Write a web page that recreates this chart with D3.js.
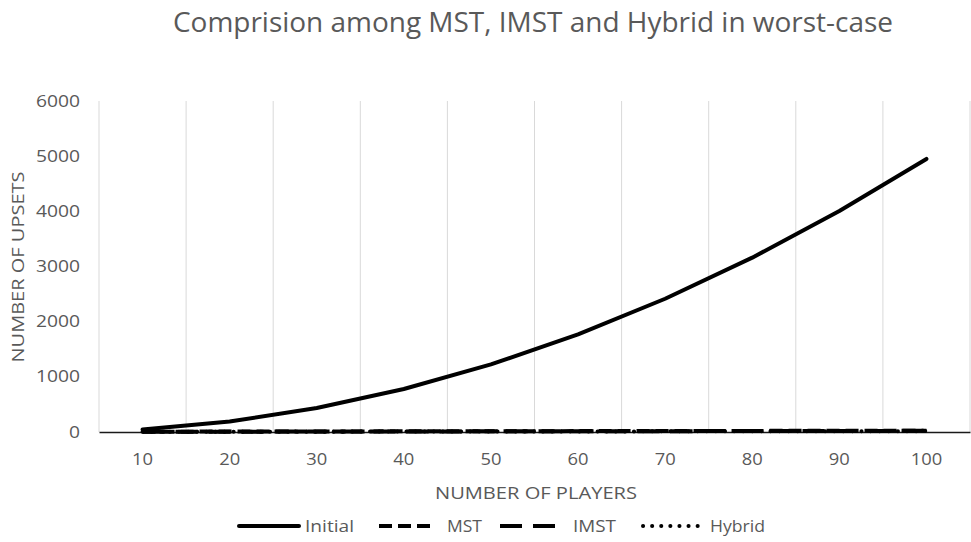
<!DOCTYPE html>
<html>
<head>
<meta charset="utf-8">
<script src="https://cdn.jsdelivr.net/npm/d3@7/dist/d3.min.js"></script>
<style>
  html, body { margin: 0; padding: 0; background: #ffffff; }
  svg { display: block; font-family: "Open Sans", "Noto Sans", sans-serif; }
</style>
</head>
<body>
<svg id="chart" width="971" height="542"></svg>
<script>
// Number of players (categories on the x axis)
const players = [10, 20, 30, 40, 50, 60, 70, 80, 90, 100];

// Number of upsets for each method
const initialUpsets = [45, 190, 435, 780, 1225, 1770, 2415, 3160, 4005, 4950];
const mstUpsets     = [5, 8, 10, 12, 14, 16, 18, 20, 22, 24];
const imstUpsets    = [4, 6, 8, 10, 12, 13, 15, 17, 19, 21];
const hybridUpsets  = [3, 5, 6, 8, 9, 10, 12, 13, 14, 16];

const yTicks = [0, 1000, 2000, 3000, 4000, 5000, 6000];

const seriesNames = ["Initial", "MST", "IMST", "Hybrid"];
const seriesValues = [initialUpsets, mstUpsets, imstUpsets, hybridUpsets];
const seriesDash = [null, "13,6", "22,11", "0.1,9"];
const seriesCap = ["round", "butt", "butt", "round"];

const textColor = "#595959";
const svg = d3.select("#chart");

const plot = { left: 99, right: 970, top: 101, bottom: 432 };

const x = d3.scaleBand().domain(players).range([plot.left, plot.right]).paddingInner(0).paddingOuter(0);
const y = d3.scaleLinear().domain([0, 6000]).range([plot.bottom, plot.top]);
const cx = d => x(d) + x.bandwidth() / 2;

// Title
svg.append("text")
  .attr("x", 173).attr("y", 32)
  .attr("textLength", 720).attr("lengthAdjust", "spacingAndGlyphs")
  .attr("fill", textColor).attr("font-size", 28)
  .text("Comprision among MST, IMST and Hybrid in worst-case");

// Vertical gridlines at category boundaries
const bounds = players.map(p => x(p)).concat([plot.right]);
svg.append("g").selectAll("line").data(bounds).join("line")
  .attr("x1", d => d).attr("x2", d => d)
  .attr("y1", y(6000)).attr("y2", y(0))
  .attr("stroke", "#d9d9d9").attr("stroke-width", 1);

// Y axis (labels only)
const yAxis = svg.append("g")
  .attr("transform", `translate(${plot.left},0)`)
  .call(d3.axisLeft(y).tickValues(yTicks).tickSize(0).tickPadding(19).tickFormat(d3.format("d")));
yAxis.select(".domain").remove();
yAxis.selectAll("text")
  .attr("fill", textColor).attr("font-size", 16)
  .attr("font-family", "'Open Sans', sans-serif")
  .attr("textLength", d => String(d).length * 11)
  .attr("lengthAdjust", "spacingAndGlyphs");

// X axis
const xAxis = svg.append("g")
  .attr("transform", `translate(0,${plot.bottom})`)
  .call(d3.axisBottom(x).tickSize(0).tickPadding(22));
xAxis.select(".domain").attr("stroke", "#1a1a1a").attr("stroke-width", 1.5);
xAxis.selectAll("text")
  .attr("fill", textColor).attr("font-size", 16)
  .attr("font-family", "'Open Sans', sans-serif")
  .attr("textLength", d => String(d).length * 10.5)
  .attr("lengthAdjust", "spacingAndGlyphs");

// Axis titles
svg.append("text")
  .attr("x", 536).attr("y", 499).attr("text-anchor", "middle")
  .attr("textLength", 202).attr("lengthAdjust", "spacingAndGlyphs")
  .attr("fill", textColor).attr("font-size", 16)
  .text("NUMBER OF PLAYERS");

svg.append("text")
  .attr("transform", "translate(24,267) rotate(-90)")
  .attr("text-anchor", "middle")
  .attr("textLength", 191).attr("lengthAdjust", "spacingAndGlyphs")
  .attr("fill", textColor).attr("font-size", 16)
  .text("NUMBER OF UPSETS");

// Series lines
const line = d3.line().x((d, i) => cx(players[i])).y(d => y(d));
const seriesData = seriesNames.map((name, i) => ({ name, values: seriesValues[i], dash: seriesDash[i], cap: seriesCap[i] }));

svg.append("g").selectAll("path").data(seriesData.slice().reverse()).join("path")
  .attr("d", d => line(d.values))
  .attr("fill", "none")
  .attr("stroke", "#000")
  .attr("stroke-width", 4)
  .attr("stroke-linejoin", "round")
  .attr("stroke-linecap", d => d.cap)
  .attr("stroke-dasharray", d => d.dash);

// Legend
const legendY = 526;
const legendItems = [
  { x0: 239, x1: 299, tx: 305, tw: 49 },
  { x0: 379, x1: 436, tx: 447, tw: 35 },
  { x0: 500, x1: 560, tx: 573, tw: 43 },
  { x0: 643, x1: 700, tx: 710, tw: 55 }
];
const legend = svg.append("g");
seriesData.forEach((s, i) => {
  const it = legendItems[i];
  legend.append("line")
    .attr("x1", it.x0).attr("x2", it.x1)
    .attr("y1", legendY).attr("y2", legendY)
    .attr("stroke", "#000").attr("stroke-width", 4)
    .attr("stroke-linecap", s.cap)
    .attr("stroke-dasharray", s.dash);
  legend.append("text")
    .attr("x", it.tx).attr("y", legendY + 6)
    .attr("textLength", it.tw).attr("lengthAdjust", "spacingAndGlyphs")
    .attr("fill", textColor).attr("font-size", 16)
    .text(s.name);
});
</script>
</body>
</html>
